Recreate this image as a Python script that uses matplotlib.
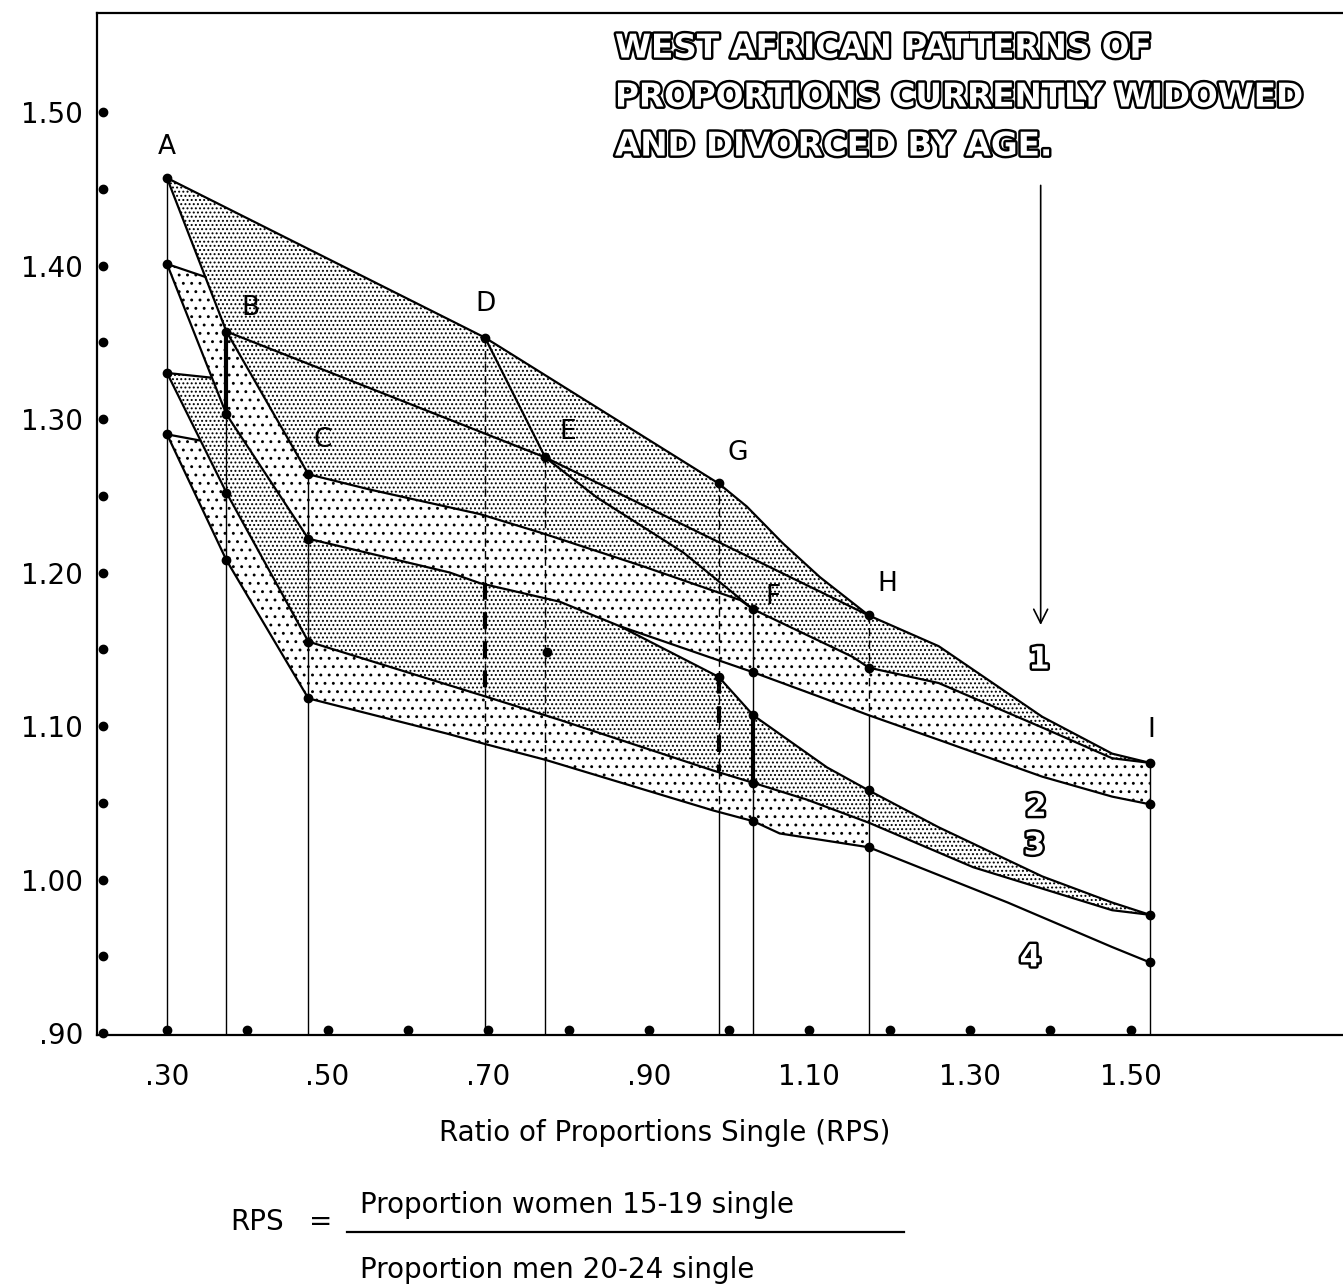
import matplotlib
matplotlib.use('Agg')
import numpy as np
import matplotlib.pyplot as plt
import matplotlib.patheffects as pe
from matplotlib.patches import Polygon
from matplotlib.lines import Line2D

plt.rcParams['font.family'] = 'DejaVu Sans'
plt.rcParams['hatch.linewidth'] = 0.9

# ---------------------------------------------------------------
# Data (x = RPS, y = ratio)
# country columns
col_names = ['A', 'B', 'C', 'D', 'E', 'G', 'F', 'H', 'I']
col_x = [0.30, 0.374, 0.476, 0.696, 0.771, 0.987, 1.030, 1.174, 1.524]
col_top = [1.457, 1.357, 1.264, 1.353, 1.275, 1.258, 1.176, 1.172, 1.076]
col_solid_from = [1.457, 1.357, 1.264, 1.088, 1.078, 1.045, 1.176, 1.107, 1.076]
col_thick = [None, (1.357, 1.303), None, (1.193, 1.119), None,
             (1.132, 1.071), (1.107, 1.063), None, None]

# upper envelope of pattern 1
top_x = [0.30, 0.696, 0.987, 1.022, 1.067, 1.113, 1.174, 1.261, 1.390, 1.477, 1.524]
top_y = [1.457, 1.353, 1.258, 1.243, 1.219, 1.197, 1.172, 1.152, 1.106, 1.082, 1.076]

# lower edge of pattern 1 (A-B-C-F-H-I)
edge1_x = [0.30, 0.374, 0.476, 0.553, 0.690, 0.765, 0.893, 1.014, 1.030, 1.154, 1.174,
           1.261, 1.390, 1.477, 1.524]
edge1_y = [1.457, 1.357, 1.264, 1.254, 1.238, 1.226, 1.204, 1.182, 1.176, 1.145, 1.138,
           1.128, 1.099, 1.079, 1.076]

# inner lines B-E-H and D-E-F
beh_x = [0.374, 0.771, 1.174]
beh_y = [1.357, 1.275, 1.172]
def_x = [0.696, 0.771, 0.835, 0.943, 1.030]
def_y = [1.353, 1.275, 1.249, 1.213, 1.176]

# lower edge of pattern 2
edge2_x = [0.30, 0.374, 0.476, 0.652, 0.690, 0.789, 0.864, 1.030, 1.113, 1.174, 1.261,
           1.390, 1.477, 1.524]
edge2_y = [1.401, 1.303, 1.222, 1.200, 1.193, 1.181, 1.165, 1.135, 1.119, 1.107, 1.091,
           1.067, 1.054, 1.049]

# upper edge of pattern 3 (branching off pattern 2 edge)
edge3_x = [0.864, 0.987, 1.030, 1.122, 1.174, 1.261, 1.390, 1.477, 1.524]
edge3_y = [1.165, 1.132, 1.107, 1.073, 1.058, 1.034, 1.002, 0.985, 0.977]

# lower edge of pattern 3 / upper edge of pattern 4
edge4_x = [0.30, 0.374, 0.476, 0.698, 0.789, 0.980, 1.030, 1.097, 1.174, 1.304, 1.477, 1.524]
edge4_y = [1.330, 1.252, 1.155, 1.119, 1.104, 1.071, 1.063, 1.052, 1.037, 1.008, 0.980, 0.977]

# lower edge of pattern 4
edge5_x = [0.30, 0.374, 0.476, 0.649, 0.698, 0.771, 0.980, 1.030, 1.063, 1.174, 1.347,
           1.477, 1.524]
edge5_y = [1.290, 1.208, 1.118, 1.095, 1.088, 1.078, 1.045, 1.038, 1.030, 1.021, 0.985,
           0.956, 0.946]

# short starting segments at A
start_x = [(0.30, 0.348), (0.30, 0.354), (0.30, 0.341)]
start_y = [(1.401, 1.3925), (1.330, 1.327), (1.290, 1.286)]

# plotted points
dot_x = [0.30, 0.30, 0.30, 0.30, 0.374, 0.374, 0.374, 0.374, 0.476, 0.476, 0.476, 0.476,
         0.696, 0.771, 0.987, 1.030, 1.174, 1.174, 1.030, 0.987, 0.773, 1.030, 1.030,
         1.030, 1.174, 1.174, 1.524, 1.524, 1.524, 1.524]
dot_y = [1.457, 1.401, 1.330, 1.290, 1.357, 1.303, 1.252, 1.208, 1.264, 1.222, 1.155, 1.118,
         1.353, 1.275, 1.258, 1.176, 1.172, 1.138, 1.135, 1.132, 1.148, 1.107, 1.063,
         1.038, 1.058, 1.021, 1.076, 1.049, 0.977, 0.946]

pattern_names = ['1', '2', '3', '4']
pattern_pos = [(1.386, 1.143), (1.382, 1.047), (1.380, 1.022), (1.375, 0.949)]

x_ticks = [0.30, 0.50, 0.70, 0.90, 1.10, 1.30, 1.50]
x_tick_labels = ['.30', '.50', '.70', '.90', '1.10', '1.30', '1.50']
y_ticks = [0.90, 1.00, 1.10, 1.20, 1.30, 1.40, 1.50]
y_tick_labels = ['.90', '1.00', '1.10', '1.20', '1.30', '1.40', '1.50']

title_lines = ['WEST AFRICAN PATTERNS OF',
               'PROPORTIONS CURRENTLY WIDOWED',
               'AND DIVORCED BY AGE.']

# ---------------------------------------------------------------
fig = plt.figure(figsize=(13.43, 12.88), dpi=100)
ax = fig.add_axes([97 / 1343, 1 - 1035 / 1288, 1 - 97 / 1343, 1022 / 1288])
ax.set_xlim(0.2128, 1.7645)
ax.set_ylim(0.8987, 1.5645)

for s in ['left', 'top', 'bottom']:
    ax.spines[s].set_linewidth(1.6)
ax.spines['right'].set_visible(False)

ax.set_xticks(x_ticks, x_tick_labels, fontsize=20)
ax.set_yticks(y_ticks, y_tick_labels, fontsize=20)
ax.tick_params(axis='x', length=0, pad=20)
ax.tick_params(axis='y', length=0, pad=10)


def band(ux, uy, lx, ly, hatch):
    xs = list(ux) + list(lx)[::-1]
    ys = list(uy) + list(ly)[::-1]
    ax.add_patch(Polygon(np.column_stack([xs, ys]), closed=True, facecolor='none',
                         edgecolor='black', lw=0, hatch=hatch, zorder=1))


# pattern 1 (dense)
band(top_x, top_y, edge1_x, edge1_y, '....')
# pattern 2 (sparse)
band([start_x[0][0], start_x[0][1]] + edge1_x[1:], [start_y[0][0], start_y[0][1]] + edge1_y[1:],
     edge2_x, edge2_y, '..')
# pattern 3 (dense)
band([start_x[1][0], start_x[1][1]] + edge2_x[1:6] + edge3_x,
     [start_y[1][0], start_y[1][1]] + edge2_y[1:6] + edge3_y,
     edge4_x, edge4_y, '....')
# pattern 4 (sparse), up to H
band([start_x[2][0], start_x[2][1]] + edge4_x[1:9], [start_y[2][0], start_y[2][1]] + edge4_y[1:9],
     edge5_x[:10], edge5_y[:10], '..')

lw_main = 1.6
for xs, ys in [(top_x, top_y), (edge1_x, edge1_y), (beh_x, beh_y), (def_x, def_y),
               (edge2_x, edge2_y), (edge3_x, edge3_y), (edge4_x, edge4_y),
               (edge5_x, edge5_y)] + list(zip(start_x, start_y)):
    ax.plot(xs, ys, color='black', lw=lw_main, zorder=3, solid_joinstyle='round')

# vertical lines for each country
for i, x in enumerate(col_x):
    if col_solid_from[i] < col_top[i]:
        ax.plot([x, x], [col_top[i], col_solid_from[i]], color='black', lw=1.0,
                ls=(0, (6, 3)), zorder=2)
    ax.plot([x, x], [col_solid_from[i], 0.90], color='black', lw=1.0, zorder=2)
    if col_thick[i] is not None:
        dashed = col_solid_from[i] < col_top[i]
        ax.plot([x, x], col_thick[i], color='black', lw=3.0, zorder=2,
                ls=(0, (4, 3)) if dashed else '-')

ax.plot(dot_x, dot_y, 'o', color='black', ms=6, zorder=4)

label_offset = [(0, 22), (17, 17), (10, 25), (0, 24), (16, 18), (14, 22), (14, 9), (13, 23), (1, 24)]
for name, x, y, off in zip(col_names, col_x, col_top, label_offset):
    ax.annotate(name, (x, y), xytext=off, textcoords='offset points', ha='center',
                va='center', fontsize=19)

# dots along the axes
ax.plot(np.full(13, 0.2203), np.arange(0.90, 1.501, 0.05), 'o', color='black', ms=6,
        clip_on=False, zorder=5)
ax.plot(np.arange(0.30, 1.501, 0.10), np.full(13, 0.902), 'o',
        color='black', ms=6, clip_on=False, zorder=5)

outline = [pe.withStroke(linewidth=3.5, foreground='black')]
for name, (x, y) in zip(pattern_names, pattern_pos):
    ax.text(x, y, name, ha='center', va='center', fontsize=22, fontweight='bold',
            color='white', path_effects=outline, zorder=6)

ax.annotate('', xy=(1.388, 1.164), xytext=(1.388, 1.454),
            arrowprops=dict(arrowstyle='->', color='black', lw=1.2, mutation_scale=25))

for i, line in enumerate(title_lines):
    fig.text(615 / 1343, 1 - (48 + 49 * i) / 1288, line, ha='left', va='center',
             fontsize=23.5, fontweight='bold', color='white', path_effects=outline)

ax.set_xlabel('Ratio of Proportions Single (RPS)', fontsize=20, va='center')
ax.xaxis.set_label_coords((665 - 97) / 1246, (1035 - 1133) / 1022)

fig.text(257 / 1343, 1 - 1222 / 1288, 'RPS', ha='center', va='center', fontsize=20)
fig.text(321 / 1343, 1 - 1222 / 1288, '=', ha='center', va='center', fontsize=20)
fig.text(360 / 1343, 1 - 1205 / 1288, 'Proportion women 15-19 single', ha='left',
         va='center', fontsize=20)
fig.text(360 / 1343, 1 - 1270 / 1288, 'Proportion men 20-24 single', ha='left',
         va='center', fontsize=20)
fig.add_artist(Line2D([347 / 1343, 904 / 1343], [1 - 1232 / 1288, 1 - 1232 / 1288],
                      color='black', lw=1.6))

fig.savefig('out.png', dpi=100)
